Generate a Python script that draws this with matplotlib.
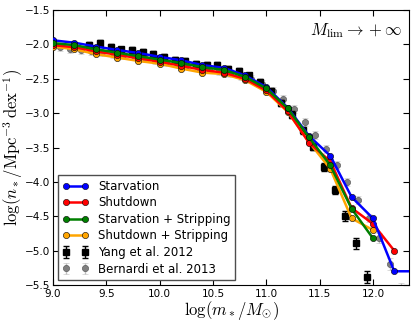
import matplotlib
matplotlib.use('Agg')
import matplotlib.pyplot as plt

plt.rcParams['mathtext.fontset'] = 'cm'
plt.rcParams['xtick.direction'] = 'in'
plt.rcParams['ytick.direction'] = 'in'
plt.rcParams['xtick.top'] = True
plt.rcParams['ytick.right'] = True

# model curves
mass_model = [9.0, 9.2, 9.4, 9.6, 9.8, 10.0, 10.2, 10.4, 10.6, 10.8, 11.0, 11.2, 11.4, 11.6, 11.8, 12.0, 12.2, 12.4]
starvation = [-1.94, -1.975, -2.03, -2.08, -2.125, -2.18, -2.23, -2.30, -2.34, -2.45, -2.62, -2.92, -3.33, -3.62, -4.22, -4.53, -5.30, -5.30]
shutdown = [-2.01, -2.04, -2.10, -2.15, -2.20, -2.25, -2.31, -2.37, -2.41, -2.50, -2.67, -2.97, -3.43, -3.70, -4.38, -4.61, -5.00]
starv_strip = [-1.98, -2.01, -2.07, -2.12, -2.17, -2.22, -2.27, -2.33, -2.37, -2.47, -2.64, -2.93, -3.35, -3.76, -4.39, -4.82]
shut_strip = [-2.03, -2.07, -2.14, -2.19, -2.24, -2.28, -2.35, -2.41, -2.43, -2.52, -2.69, -2.98, -3.42, -3.81, -4.53, -4.70]

# Yang et al. 2012
yang_mass = [9.34, 9.44, 9.54, 9.64, 9.74, 9.84, 9.94, 10.04, 10.14, 10.24, 10.34, 10.44, 10.54, 10.64, 10.74,
             10.84, 10.94, 11.04, 11.14, 11.24, 11.34, 11.44, 11.54, 11.64, 11.74, 11.84, 11.94]
yang_phi = [-2.01, -1.98, -2.04, -2.07, -2.08, -2.11, -2.14, -2.18, -2.22, -2.24, -2.28, -2.30, -2.30, -2.35, -2.38,
            -2.45, -2.55, -2.68, -2.85, -3.02, -3.25, -3.49, -3.78, -4.12, -4.50, -4.89, -5.38]
yang_err = [0.04, 0.04, 0.04, 0.04, 0.04, 0.04, 0.04, 0.04, 0.04, 0.04, 0.04, 0.04, 0.04, 0.04, 0.04,
            0.04, 0.04, 0.04, 0.04, 0.05, 0.05, 0.05, 0.06, 0.06, 0.07, 0.08, 0.09]

# Bernardi et al. 2013
bern_mass = [9.06, 9.16, 9.26, 9.36, 9.46, 9.56, 9.66, 9.76, 9.86, 9.96, 10.06, 10.16, 10.26, 10.36, 10.46, 10.56,
             10.66, 10.76, 10.86, 10.96, 11.06, 11.16, 11.26, 11.36, 11.46, 11.56, 11.66, 11.76, 11.86, 11.96,
             12.06, 12.16, 12.26]
bern_phi = [-2.04, -2.06, -2.08, -2.10, -2.11, -2.13, -2.15, -2.17, -2.20, -2.22, -2.25, -2.27, -2.30, -2.33, -2.36,
            -2.39, -2.42, -2.46, -2.50, -2.58, -2.68, -2.80, -2.94, -3.13, -3.32, -3.52, -3.75, -4.00, -4.26, -4.53,
            -4.82, -5.19, -5.62]
bern_err = [0.06] * 30 + [0.07, 0.09, 0.15]

fig = plt.figure(figsize=(4.15, 3.25), dpi=100)
ax = fig.add_axes([0.128, 0.123, 0.858, 0.846])

ax.plot(mass_model[:len(starvation)], starvation, '-o', color='b', lw=1.8, ms=4.5, mec='k', mew=0.4,
        label='Starvation', zorder=5)
ax.plot(mass_model[:len(shutdown)], shutdown, '-o', color='r', lw=1.8, ms=4.5, mec='k', mew=0.4,
        label='Shutdown', zorder=4)
ax.plot(mass_model[:len(starv_strip)], starv_strip, '-o', color='g', lw=1.8, ms=4.5, mec='k', mew=0.4,
        label='Starvation + Stripping', zorder=6)
ax.plot(mass_model[:len(shut_strip)], shut_strip, '-o', color='orange', lw=1.8, ms=4.5, mec='k', mew=0.4,
        label='Shutdown + Stripping', zorder=3)

ax.errorbar(yang_mass, yang_phi, yerr=yang_err, fmt='s', color='k', ms=4.5, capsize=2.5, elinewidth=1,
            label='Yang et al. 2012', zorder=2)
ax.errorbar(bern_mass, bern_phi, yerr=bern_err, fmt='o', color='0.5', ecolor='0.75', mec='0.3', mew=0.4,
            ms=4.5, capsize=2.5, elinewidth=1, label='Bernardi et al. 2013', zorder=1)

ax.set_xlim(9.0, 12.34)
ax.set_ylim(-5.5, -1.5)
ax.set_xticks([9.0, 9.5, 10.0, 10.5, 11.0, 11.5, 12.0])
ax.set_xticklabels(['9.0', '9.5', '10.0', '10.5', '11.0', '11.5', '12.0'])
ax.tick_params(labelsize=7.5, length=4)
ax.tick_params(axis='x', pad=3)
ax.tick_params(axis='y', pad=2)

ax.set_xlabel(r'$\log(m_*/M_{\odot})$', fontsize=12, labelpad=0)
ax.set_ylabel(r'$\log(n_*/\mathrm{Mpc}^{-3}\,\mathrm{dex}^{-1})$', fontsize=12, labelpad=0)
ax.text(0.98, 0.96, r'$M_{\rm lim}\rightarrow +\infty$', transform=ax.transAxes, ha='right', va='top', fontsize=12)

leg = ax.legend(loc='lower left', numpoints=2, fontsize=8.5, fancybox=False, framealpha=1,
                handlelength=2.2, borderaxespad=0.4, labelspacing=0.3)
leg.get_frame().set_edgecolor('0.3')

fig.savefig('out.png', dpi=100)
